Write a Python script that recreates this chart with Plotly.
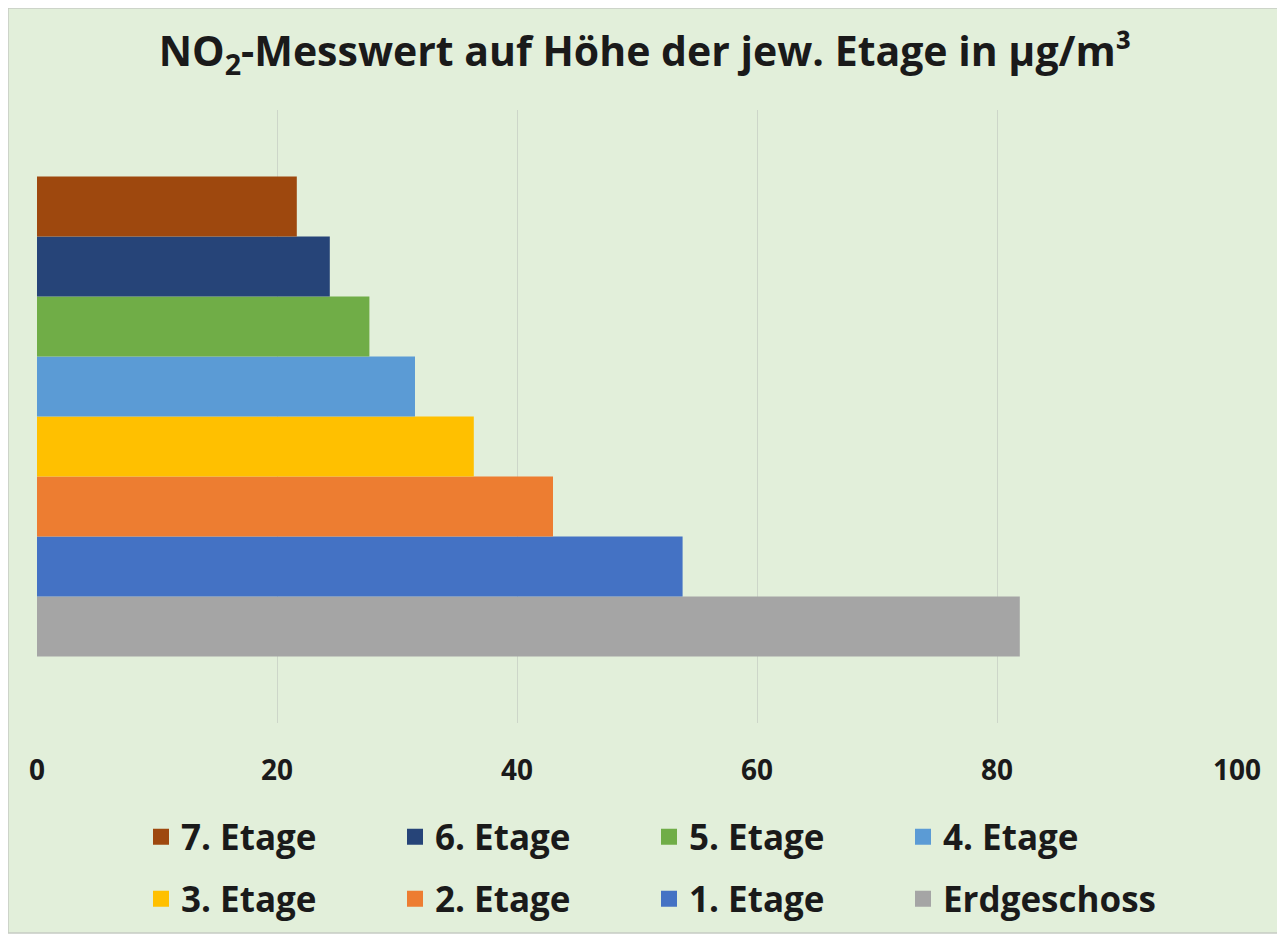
import plotly.graph_objects as go

series_names = ["Erdgeschoss", "1. Etage", "2. Etage", "3. Etage", "4. Etage", "5. Etage", "6. Etage", "7. Etage"]
series_values = [81.9, 53.8, 43.0, 36.4, 31.5, 27.7, 24.4, 21.65]
series_colors = ["#A5A5A5", "#4472C4", "#ED7D31", "#FFC000", "#5B9BD5", "#70AD47", "#264478", "#9E480E"]
legend_rows = ["legend2", "legend2", "legend2", "legend2", "legend", "legend", "legend", "legend"]
category = ["NO2"]
tick_values = [0, 20, 40, 60, 80, 100]

OFF = 8  # default page body margin
W, H = 1285 - OFF, 937 - OFF
L, R, T, B = 37 - OFF, 1237 - OFF, 110 - OFF, 723 - OFF

fig = go.Figure()
for name, val, col in zip(series_names, series_values, series_colors):
    fig.add_trace(go.Bar(
        y=category, x=[val], name=name, orientation="h",
        marker=dict(color=col, line=dict(width=0)),
        showlegend=False, legendgroup=name,
    ))
for name, col, lg in zip(series_names, series_colors, legend_rows):
    fig.add_trace(go.Scatter(
        x=[None], y=[None], name=name, mode="markers",
        marker=dict(symbol="square", size=22, color=col),
        legend=lg, legendgroup=name, showlegend=True, hoverinfo="skip",
    ))

def px_x(p):
    return (p - OFF - L) / (R - L)

def px_y(p):
    return (B - (p - OFF)) / (B - T)

legend_common = dict(
    orientation="h", traceorder="reversed",
    xref="container", yref="container",
    x=(141 - OFF) / W, xanchor="left", yanchor="middle",
    entrywidth=209, entrywidthmode="pixels",
    font=dict(size=35, family="Open Sans", weight="bold", color="#1a1a1a"),
    bgcolor="rgba(0,0,0,0)", itemwidth=30, itemsizing="trace",
)

fig.update_layout(
    width=W, height=H,
    margin=dict(l=L, r=W - R, t=T, b=H - B, autoexpand=False),
    paper_bgcolor="white",
    plot_bgcolor="rgba(0,0,0,0)",
    barmode="group",
    bargap=0.217,
    bargroupgap=0,
    font=dict(family="Open Sans", color="#1a1a1a"),
    title=dict(
        text="NO<sub>2</sub>-Messwert auf Höhe der jew. Etage in µg/m³",
        x=(645 - OFF) / W, xref="container", xanchor="center",
        y=1 - (52 - OFF) / H, yref="container", yanchor="middle",
        font=dict(size=41, family="Open Sans", weight="bold", color="#1a1a1a"),
    ),
    xaxis=dict(
        range=[0, 100], tickvals=tick_values, showgrid=True,
        gridcolor="#CDD6C9", gridwidth=1, zeroline=False,
        showline=False, ticks="", ticklabelstandoff=28,
        tickfont=dict(size=28, family="Open Sans", weight="bold", color="#1a1a1a"),
        fixedrange=True,
    ),
    yaxis=dict(showticklabels=False, showgrid=False, zeroline=False, showline=False,
               fixedrange=True),
    showlegend=True,
    legend=dict(legend_common, y=1 - (837 - OFF) / H),
    legend2=dict(legend_common, y=1 - (899 - OFF) / H),
    shapes=[dict(
        type="rect", xref="paper", yref="paper", layer="below",
        x0=px_x(OFF), x1=px_x(1281), y0=px_y(933), y1=px_y(OFF),
        fillcolor="#E2EFDA", line=dict(color="#C6CCC3", width=1.5),
    )],
)

fig.write_html("out.html")
